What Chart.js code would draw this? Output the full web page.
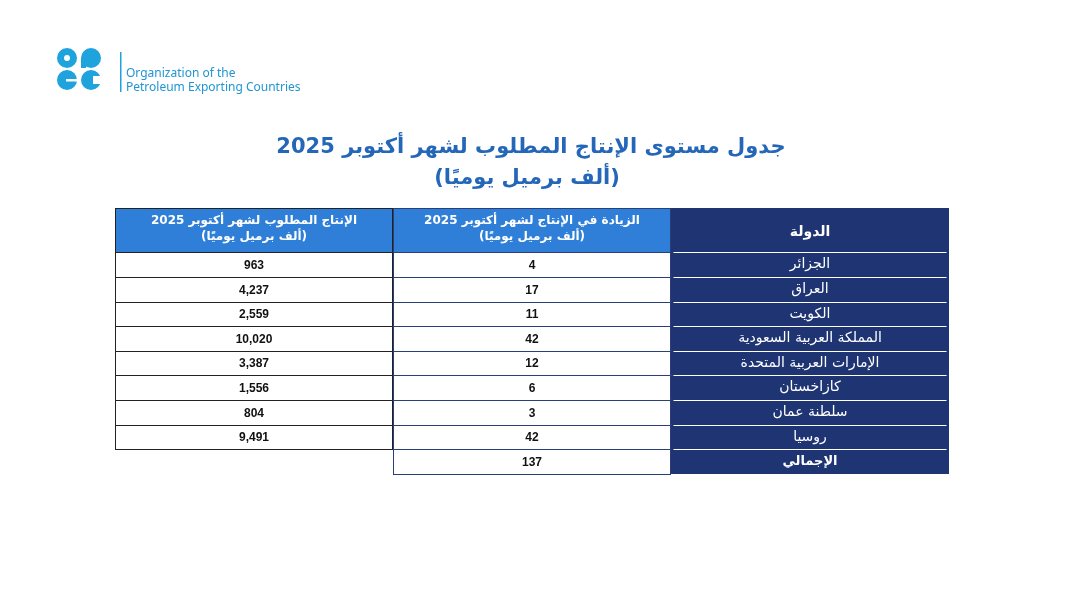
<!DOCTYPE html>
<html><head><meta charset="utf-8">
<script src="https://cdn.jsdelivr.net/npm/chart.js@4"></script>
<style>html,body{margin:0;padding:0;background:#fff;width:1080px;height:608px;overflow:hidden}
#logo{position:absolute;left:56px;top:47px}
</style></head><body>
<div id="logo"><svg width="250" height="48">
<g fill="#1ea3dd">
<circle cx="11" cy="11" r="10"/><circle cx="35" cy="11" r="10"/>
<circle cx="11" cy="33" r="10"/><circle cx="35" cy="33" r="10"/>
<rect x="25" y="11" width="5" height="10"/>
</g>
<g fill="#fff">
<rect x="21.5" y="0" width="3" height="44"/>
<rect x="10" y="32" width="12" height="2.5"/>
<rect x="37" y="29" width="10" height="8"/>
<circle cx="11" cy="11" r="3"/>
</g>
<rect x="64" y="5" width="1.5" height="40" fill="#1ea3dd"/>
<text x="70" y="30" font-family="Noto Sans" font-size="12" fill="#1f95d2">Organization of the</text>
<text x="70" y="44" font-family="Noto Sans" font-size="12" fill="#1f95d2">Petroleum Exporting Countries</text>
</svg></div>
<canvas id="c" width="1080" height="608"></canvas>
<script>
const titleLines = ['جدول مستوى الإنتاج المطلوب لشهر أكتوبر 2025','(ألف برميل يوميًا)'];
const headers = ['الدولة',['الزيادة في الإنتاج لشهر أكتوبر 2025','(ألف برميل يوميًا)'],['الإنتاج المطلوب لشهر أكتوبر 2025','(ألف برميل يوميًا)']];
const countries = ['الجزائر','العراق','الكويت','المملكة العربية السعودية','الإمارات العربية المتحدة','كازاخستان','سلطنة عمان','روسيا'];
const increase = [4,17,11,42,12,6,3,42];
const totalLabel = 'الإجمالي';
const totalIncrease = 137;
const required = [963,4237,2559,10020,3387,1556,804,9491];

const cols = ['c3','c2','c1'];
const HDR = 1.8;
const nRows = countries.length + 2;
const bounds = r => r===0 ? [0,HDR] : [HDR+r-1, HDR+r];
const NAVY='#1f3473', BLUE='#2f7fd8';
const cells=[], fills=[], texts=[];
for(let r=0;r<nRows;r++){
  const b=bounds(r);
  for(let c=0;c<3;c++){
    const col=cols[c];
    let txt=null;
    if(r===0){ txt=headers[2-c]; }
    else if(r<=countries.length){ const i=r-1; txt = c===2?countries[i]:c===1?String(increase[i]):required[i].toLocaleString('en-US'); }
    else { if(c===0) continue; txt = c===2?totalLabel:String(totalIncrease); }
    cells.push({x:col,y:b});
    fills.push(c===2?NAVY:(r===0?BLUE:'#ffffff'));
    texts.push({r,c,txt});
  }
}
const plugin = {
  id:'tbl',
  afterDatasetsDraw(ch){
    const ctx=ch.ctx, xs=ch.scales.x, ys=ch.scales.y;
    const w = xs.getPixelForValue(1)-xs.getPixelForValue(0);
    ctx.save();
    texts.forEach(t=>{
      const b=bounds(t.r);
      const xc=xs.getPixelForValue(t.c), x0=Math.round(xc-w/2)+0.5, x1=Math.round(xc+w/2)-0.5;
      const y0=Math.round(ys.getPixelForValue(b[0]))+0.5, y1=Math.round(ys.getPixelForValue(b[1]))+0.5;
      ctx.lineWidth=1;
      if(t.c===2){
        ctx.strokeStyle='#ffffff';
        ctx.beginPath();ctx.moveTo(x0+2,y1);ctx.lineTo(x1-2,y1);ctx.stroke();
      } else {
        ctx.strokeStyle = t.c===1?'#2a3f78':'#222';
        ctx.strokeRect(x0,y0,x1-x0,y1-y0);
      }
      const yc=(ys.getPixelForValue(b[0])+ys.getPixelForValue(b[1]))/2;
      ctx.textAlign='center';ctx.textBaseline='middle';
      if(t.r===0){
        ctx.fillStyle='#fff';
        if(Array.isArray(t.txt)){
          ctx.font='bold 12px "DejaVu Sans"';
          ctx.fillText(t.txt[0],xc,yc-9);ctx.fillText(t.txt[1],xc,yc+7);
        } else { ctx.font='bold 14px "DejaVu Sans"'; ctx.fillText(t.txt,xc,yc+2); }
      } else if(t.c===2){
        ctx.fillStyle='#fff';
        ctx.font=(t.r===nRows-1?'bold 13px':'14px')+' "DejaVu Sans"';
        ctx.fillText(t.txt,xc,yc);
      } else {
        ctx.fillStyle='#111';ctx.font='bold 12px "Liberation Sans", Arial';
        ctx.fillText(t.txt,xc,yc+1);
      }
    });
    ctx.fillStyle='#2467b8';ctx.textAlign='center';ctx.textBaseline='alphabetic';
    ctx.font='bold 21px "DejaVu Sans"';
    ctx.fillText(titleLines[0],531,153);
    ctx.fillText(titleLines[1],527,184);
    ctx.restore();
  }
};
new Chart(document.getElementById('c'),{
  type:'bar',
  data:{labels:cols,datasets:[{data:cells,backgroundColor:fills,borderWidth:0,barPercentage:1,categoryPercentage:1,borderSkipped:false}]},
  options:{responsive:false,animation:false,devicePixelRatio:1,
    layout:{padding:{left:115,right:131,top:208,bottom:134}},
    plugins:{legend:{display:false},tooltip:{enabled:false}},
    scales:{x:{display:false,offset:true},y:{display:false,min:0,max:HDR+nRows-1,reverse:true}}},
  plugins:[plugin]
});
</script></body></html>
